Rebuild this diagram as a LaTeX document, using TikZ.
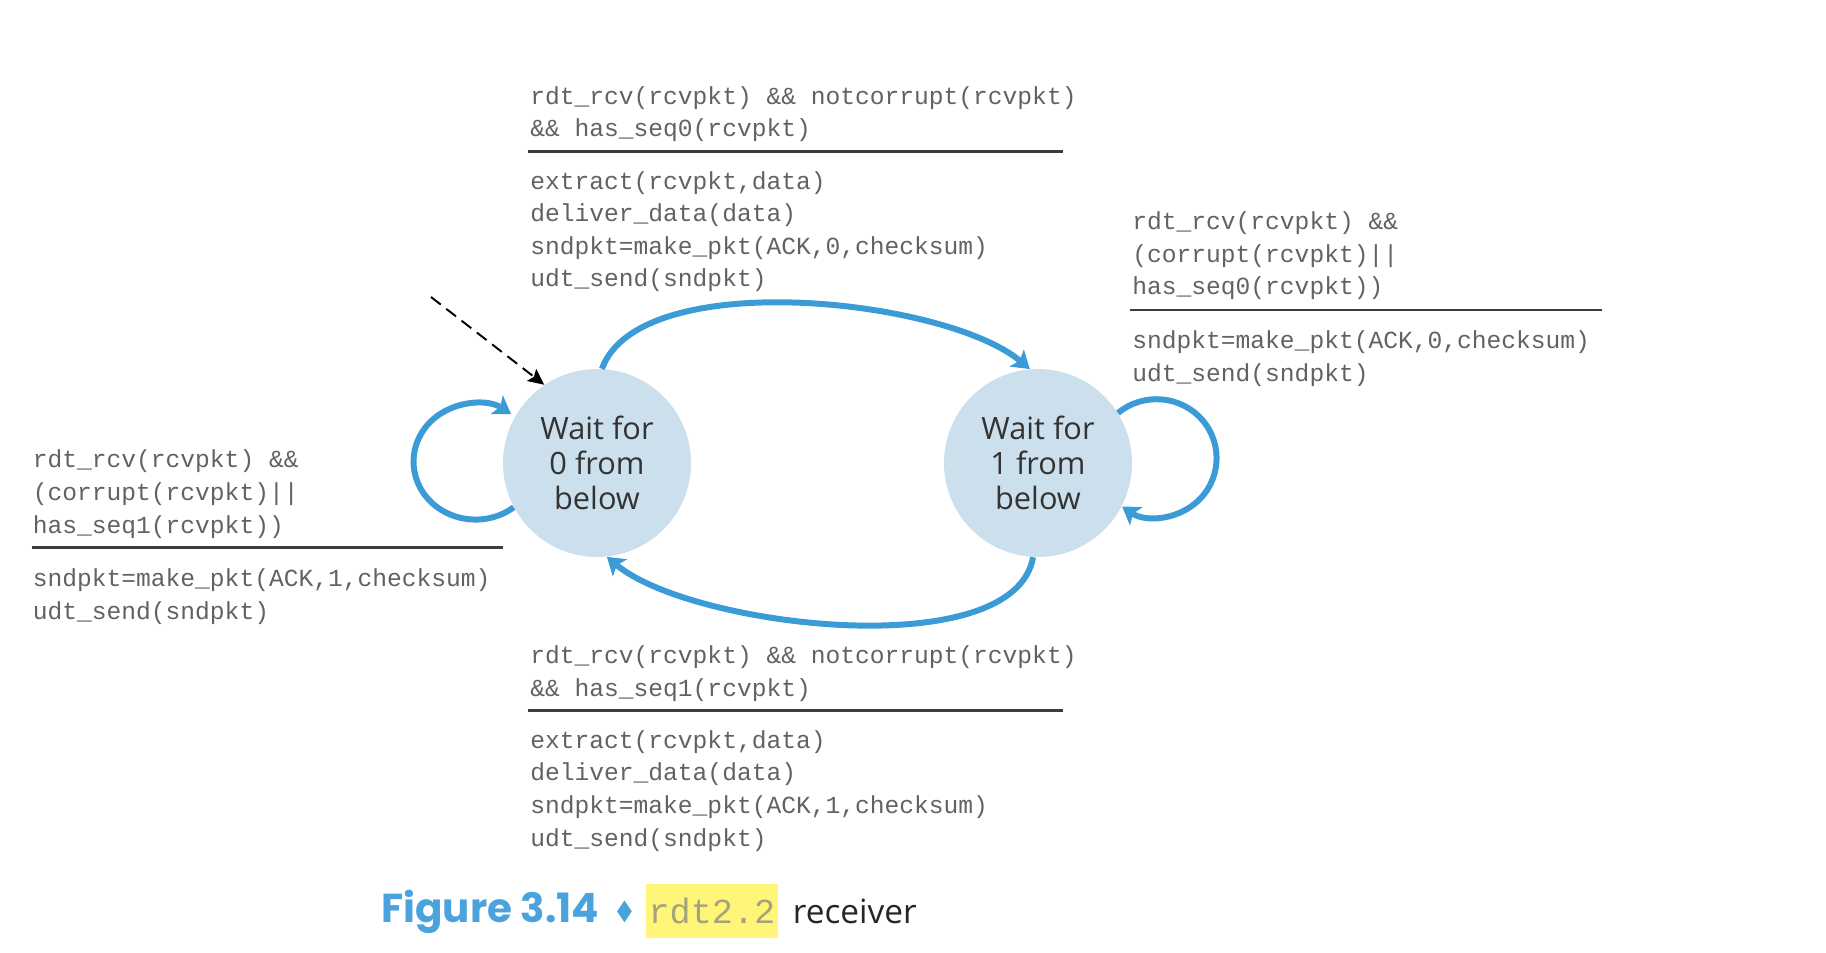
\documentclass[tikz,border=0pt]{standalone}
\usepackage{fontspec}
\setmainfont{Open Sans}
\newfontfamily\codefont{Liberation Mono}
\newfontfamily\capfont{Poppins}
\usetikzlibrary{arrows.meta,positioning,shapes.geometric}
\definecolor{fsmblue}{RGB}{58,155,214}
\definecolor{fsmfill}{RGB}{204,223,237}
\definecolor{fsmgray}{RGB}{98,98,98}
\definecolor{fsmrule}{RGB}{60,60,60}
\definecolor{capblue}{RGB}{74,163,221}
\definecolor{capyellow}{RGB}{255,245,120}
\definecolor{capolive}{RGB}{165,163,122}

\begin{document}
\begin{tikzpicture}[
  state/.style={circle, fill=fsmfill, minimum size=3.76cm, inner sep=0pt, align=center,
                text=black!80, font=\fontsize{17.5}{20}\selectfont},
  code/.style={anchor=base west, inner sep=0pt, align=left, text=fsmgray,
               font=\codefont\fontsize{14}{18.5}\selectfont},
  trans/.style={-{Stealth[length=3.4mm, width=4.4mm, inset=0.8mm]}, line width=3.4pt, fsmblue},
  init/.style={-{Stealth[length=3.2mm, width=3mm, inset=0.6mm]}, line width=1.1pt, dash pattern=on 7pt off 4pt},
  bar/.style={line width=1.3pt, fsmrule},
  hl/.style={fill=capyellow, text=capolive, inner xsep=0.06cm, minimum height=1.08cm,
             font=\codefont\fontsize{20}{24}\selectfont}
]
\useasboundingbox (0,0) rectangle (36.52,19.04);
\node[state] (s0) at (11.94,9.78) {Wait for\\0 from\\below};
\node[state] (s1) at (20.76,9.78) {Wait for\\1 from\\below};
\coordinate (start) at (8.62,13.1);
\draw[init] (start) -- (s0.124);
\draw[trans] (s0.87) .. controls +(70:2.2cm) and +(140:2.2cm) .. (s1.95);
\draw[trans] (s1.267) .. controls +(260:2.2cm) and +(320:2.2cm) .. (s0.276);
\draw[trans] (s0.208) arc[start angle=-52, end angle=-305, x radius=1.24cm, y radius=1.16cm];
\draw[trans] (s1.32) arc[start angle=130, end angle=-125, x radius=1.2cm, y radius=1.18cm];

\node[code] (g01) at (10.6,16.3) {rdt\_rcv(rcvpkt) \&\& notcorrupt(rcvpkt)\\\&\& has\_seq0(rcvpkt)};
\draw[bar] (10.55,16.01) -- (21.26,16.01);
\node[code] (a01) at (10.6,13.3) {extract(rcvpkt,data)\\deliver\_data(data)\\sndpkt=make\_pkt(ACK,0,checksum)\\udt\_send(sndpkt)};

\node[code] (g11) at (22.64,13.14) {rdt\_rcv(rcvpkt) \&\&\\(corrupt(rcvpkt)||\\has\_seq0(rcvpkt))};
\draw[bar] (22.59,12.84) -- (32.04,12.84);
\node[code] (a11) at (22.64,11.41) {sndpkt=make\_pkt(ACK,0,checksum)\\udt\_send(sndpkt)};

\node[code] (g00) at (0.65,8.38) {rdt\_rcv(rcvpkt) \&\&\\(corrupt(rcvpkt)||\\has\_seq1(rcvpkt))};
\draw[bar] (0.63,8.09) -- (10.06,8.09);
\node[code] (a00) at (0.65,6.66) {sndpkt=make\_pkt(ACK,1,checksum)\\udt\_send(sndpkt)};

\node[code] (g10) at (10.6,5.12) {rdt\_rcv(rcvpkt) \&\& notcorrupt(rcvpkt)\\\&\& has\_seq1(rcvpkt)};
\draw[bar] (10.55,4.83) -- (21.26,4.83);
\node[code] (a10) at (10.6,2.12) {extract(rcvpkt,data)\\deliver\_data(data)\\sndpkt=make\_pkt(ACK,1,checksum)\\udt\_send(sndpkt)};

\node[anchor=base west, inner sep=0pt, text=capblue, font=\capfont\bfseries\fontsize{23}{26}\selectfont] (fig) at (7.62,0.6) {Figure 3.14};
\node[diamond, fill=capblue, inner sep=0pt, minimum width=0.3cm, minimum height=0.44cm, right=0.34cm of fig] (dia) {};
\node[hl, right=0.26cm of dia] (ver) {rdt2.2};
\node[inner sep=0pt, text=black!85, font=\fontsize{19}{22}\selectfont, base right=0.28cm of ver] (recv) {receiver};
\end{tikzpicture}
\end{document}
